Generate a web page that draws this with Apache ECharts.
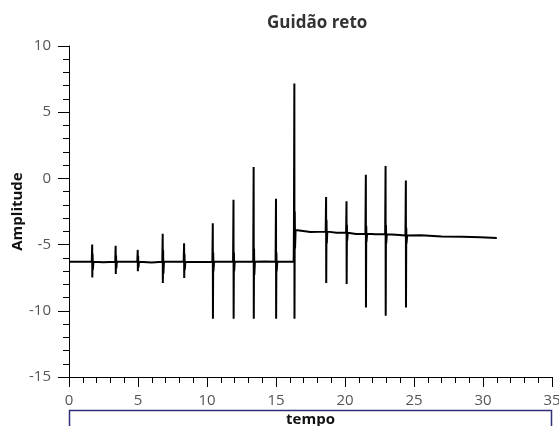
<!DOCTYPE html>
<html>
<head>
<meta charset="utf-8">
<script src="https://cdn.jsdelivr.net/npm/echarts@6/dist/echarts.min.js"></script>
<style>
  html, body { margin: 0; padding: 0; background: #fff; }
  #chart { width: 559px; height: 426px; }
</style>
</head>
<body>
<div id="chart"></div>
<script>
// Resting level of the signal (time in s, amplitude)
const restTimes = [0, 2.5, 4.2, 6.0, 7.6, 9.4, 11.2, 12.7, 14.2, 15.7, 16.28, 16.5, 17.5, 19.4, 20.8, 22.2, 23.7, 25.5, 27.0, 28.5, 29.8, 31.0];
const restValues = [-6.3, -6.33, -6.3, -6.35, -6.3, -6.32, -6.3, -6.3, -6.28, -6.3, -6.3, -3.85, -4.05, -4.1, -4.2, -4.22, -4.25, -4.3, -4.38, -4.4, -4.45, -4.5];

// Impacts: time, local level, peak, trough and ring-down around the level
const spikeTimes = [1.69, 3.39, 4.99, 6.8, 8.35, 10.43, 11.93, 13.39, 15.01, 16.34, 18.64, 20.12, 21.52, 22.95, 24.42];
const spikeBase = [-6.3, -6.3, -6.3, -6.3, -6.3, -6.3, -6.3, -6.3, -6.3, -3.9, -4.02, -4.1, -4.18, -4.22, -4.32];
const spikeTops = [-5.0, -5.08, -5.4, -4.19, -4.9, -3.38, -1.62, 0.86, -1.54, 7.17, -1.41, -1.72, 0.28, 0.93, -0.15];
const spikeBottoms = [-7.48, -7.22, -7.02, -7.9, -7.52, -10.6, -10.6, -10.6, -10.6, -10.6, -7.9, -7.98, -9.75, -10.38, -9.75];
const spikeRings = [0.6, 0.5, 0.45, 0.9, 0.6, 0.7, 0.7, 1.0, 0.7, 1.4, 0.9, 0.6, 0.6, 0.7, 0.6];

const xTicks = { min: 0, max: 35, step: 5 };
const yTicks = { min: -15, max: 10, step: 5 };

// Assemble the trace: resting points plus a short burst at each impact
const points = restTimes.map((t, i) => [t, restValues[i]]);
spikeTimes.forEach((t, i) => {
  const b = spikeBase[i], r = spikeRings[i];
  points.push([t - 0.04, b]);
  points.push([t - 0.01, spikeTops[i]]);
  points.push([t, spikeBottoms[i]]);
  points.push([t + 0.02, b + r]);
  points.push([t + 0.04, b - r]);
  points.push([t + 0.08, b]);
});
points.sort((a, b) => a[0] - b[0]);

const chart = echarts.init(document.getElementById('chart'), null, { renderer: 'canvas' });
const font = '"Open Sans", "DejaVu Sans", sans-serif';

chart.setOption({
  animation: false,
  backgroundColor: '#fff',
  title: {
    text: 'Guidão reto',
    left: 262,
    top: 10,
    textStyle: { fontFamily: font, fontWeight: 'bold', fontSize: 17, color: '#333' }
  },
  grid: { left: 69, right: 7, top: 46, bottom: 49, containLabel: false, outerBoundsMode: 'none' },
  xAxis: {
    type: 'value',
    min: xTicks.min, max: xTicks.max, interval: xTicks.step,
    name: 'tempo',
    nameLocation: 'middle',
    nameGap: 35,
    nameMoveOverlap: false,
    nameTextStyle: { fontFamily: font, fontWeight: 'bold', fontSize: 15, color: '#111' },
    axisLine: { show: true, onZero: false, lineStyle: { color: '#000', width: 1 } },
    axisTick: { show: true, length: 10, lineStyle: { color: '#000', width: 1 } },
    minorTick: { show: true, splitNumber: 5, length: 6, lineStyle: { color: '#000', width: 1 } },
    splitLine: { show: false },
    axisLabel: { fontFamily: font, fontSize: 15, color: '#555', margin: 16 }
  },
  yAxis: {
    type: 'value',
    min: yTicks.min, max: yTicks.max, interval: yTicks.step,
    name: 'Amplitude',
    nameLocation: 'middle',
    nameGap: 44,
    nameMoveOverlap: false,
    nameTextStyle: { fontFamily: font, fontWeight: 'bold', fontSize: 15, color: '#111' },
    axisLine: { show: true, onZero: false, lineStyle: { color: '#000', width: 1 } },
    axisTick: { show: true, length: 11, lineStyle: { color: '#000', width: 1 } },
    minorTick: { show: true, splitNumber: 5, length: 6, lineStyle: { color: '#000', width: 1 } },
    splitLine: { show: false },
    axisLabel: { fontFamily: font, fontSize: 15, color: '#555', margin: 18 }
  },
  graphic: [{
    type: 'rect',
    shape: { x: 69.5, y: 410.5, width: 482, height: 30 },
    style: { fill: 'none', stroke: '#2f2f7a', lineWidth: 1.5 },
    z: -1
  }],
  series: [{
    type: 'line',
    data: points,
    showSymbol: false,
    symbol: 'none',
    lineStyle: { color: '#000', width: 2 },
    z: 3
  }]
});
</script>
</body>
</html>
